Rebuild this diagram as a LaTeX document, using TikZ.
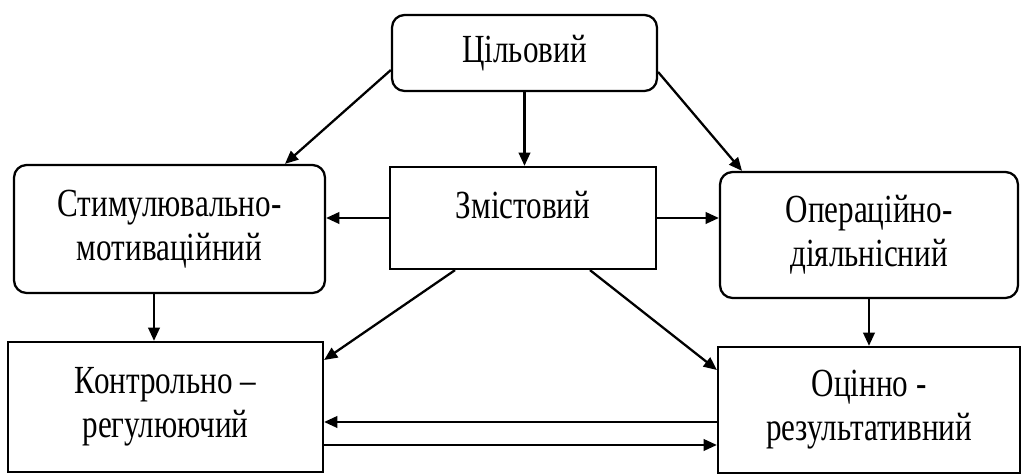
\documentclass[tikz,border=0pt]{standalone}
\usepackage{fontspec}
\setmainfont{Liberation Serif}[FakeStretch=0.78]
\usetikzlibrary{arrows.meta}
\begin{document}
\begin{tikzpicture}[x=0.02cm,y=-0.02cm,
  box/.style={draw,line width=1.3pt,align=center,inner sep=0pt,
    font=\fontsize{22.7}{25}\selectfont},
  rbox/.style={box,rounded corners=0.25cm},
  arr/.style={line width=1.3pt,-{Triangle[length=7.5pt,width=6.5pt]}}]
\useasboundingbox (0,0) rectangle (1022,475);
\node[rbox,minimum width=5.3cm,minimum height=1.52cm] (cil) at (524.5,53) {Цільовий};
\node[box,minimum width=5.32cm,text height=1.04cm,text depth=1.0cm] (zm) at (523,218) {Змістовий};
\node[rbox,minimum width=6.22cm,minimum height=2.56cm] (stim) at (169.5,229) {Стимулювально-\\мотиваційний};
\node[rbox,minimum width=5.96cm,minimum height=2.52cm] (op) at (869,235) {Операційно-\\діяльнісний};
\node[box,minimum width=6.3cm,minimum height=2.6cm] (kon) at (165.5,407) {Контрольно –\\регулюючий};
\node[box,minimum width=6.04cm,minimum height=2.52cm] (oc) at (869,410) {Оцінно -\\результативний};

\draw[arr] (cil.south) -- (cil.south |- zm.north);
\draw[arr] ([yshift=-0.34cm]cil.west) -- ([xshift=2.31cm]stim.north);
\draw[arr] ([yshift=-0.38cm]cil.east) -- ([xshift=-2.54cm]op.north);
\draw[arr] (zm.west) -- (zm.west -| stim.east);
\draw[arr] (zm.east) -- (zm.east -| op.west);
\draw[arr] ([xshift=-1.36cm]zm.south) -- ([yshift=0.94cm]kon.east);
\draw[arr] ([xshift=1.34cm]zm.south) -- ([yshift=0.8cm]oc.west);
\draw[arr] ([xshift=-0.31cm]stim.south) coordinate (s1) -- (s1 |- kon.north);
\draw[arr] (op.south) -- (op.south |- oc.north);
\draw[arr] ([yshift=-0.24cm]oc.west) coordinate (o1) -- (o1 -| kon.east);
\draw[arr] ([yshift=-0.76cm]kon.east) coordinate (k1) -- (k1 -| oc.west);
\end{tikzpicture}
\end{document}
